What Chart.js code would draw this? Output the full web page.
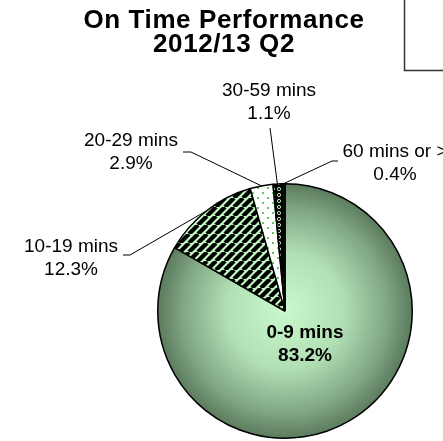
<!DOCTYPE html>
<html>
<head>
<meta charset="utf-8">
<script src="https://cdn.jsdelivr.net/npm/chart.js@4/dist/chart.umd.min.js"></script>
<style>
    html, body { margin: 0; padding: 0; background: #fff; overflow: hidden; }
    #otpChart { display: block; }
</style>
</head>
<body>
<canvas id="otpChart" width="443" height="441"></canvas>
<script>
// Chart data
const categories = ['0-9 mins', '10-19 mins', '20-29 mins', '30-59 mins', '60 mins or >'];
const shares = [83.2, 12.3, 2.9, 1.1, 0.4];
const titleLines = ['On Time Performance', '2012/13 Q2'];

const FONT = '"Liberation Sans", Arial, sans-serif';

// where each callout text sits and the elbow of its leader line
const calloutPlacement = [
    { x: 305, y: 338, bold: true, elbow: null },
    { x: 71, y: 252, elbow: [[123, 255], [130, 255]] },
    { x: 131, y: 146, elbow: [[183, 152], [191, 152]] },
    { x: 269, y: 96, elbow: [[270, 128]] },
    { x: 395, y: 157, elbow: [[338, 161], [332, 161]] }
];

// Pattern helpers
function makeTile(size, paint) {
    const c = document.createElement('canvas');
    c.width = size;
    c.height = size;
    paint(c.getContext('2d'), size);
    return document.createElement('canvas').getContext('2d').createPattern(c, 'repeat');
}

const stripePattern = makeTile(9, (g, s) => {
    g.fillStyle = '#c2f7c2';
    g.fillRect(0, 0, s, s);
    g.strokeStyle = '#000';
    g.lineWidth = 4.2;
    for (const o of [-s, 0, s]) {
        g.beginPath();
        g.moveTo(o, s);
        g.lineTo(o + s, 0);
        g.stroke();
    }
});

const dotPattern = makeTile(10, (g, s) => {
    g.fillStyle = '#fff';
    g.fillRect(0, 0, s, s);
    g.fillStyle = '#5fc85f';
    g.fillRect(2, 2, 2, 2);
    g.fillRect(7, 7, 2, 2);
});

const ringPattern = makeTile(6, (g, s) => {
    g.fillStyle = '#000';
    g.fillRect(0, 0, s, s);
    g.strokeStyle = '#b8f0b8';
    g.lineWidth = 1;
    g.beginPath();
    g.arc(3, 3, 1.6, 0, Math.PI * 2);
    g.stroke();
});

function mainGradient(chart) {
    const area = chart.chartArea;
    if (!area) return '#9cc89e';
    const cx = (area.left + area.right) / 2;
    const cy = (area.top + area.bottom) / 2;
    const r = Math.min(area.right - area.left, area.bottom - area.top) / 2;
    const g = chart.ctx.createRadialGradient(cx, cy, 0, cx, cy, r);
    g.addColorStop(0, '#c8f8cc');
    g.addColorStop(0.45, '#b2e0b5');
    g.addColorStop(0.8, '#80a683');
    g.addColorStop(1, '#5a7a5c');
    return g;
}

const sliceFills = [null, stripePattern, dotPattern, ringPattern, '#111'];

// Title, callout labels and leader lines
const calloutPlugin = {
    id: 'callouts',
    afterDraw(chart) {
        const ctx = chart.ctx;
        const meta = chart.getDatasetMeta(0);
        ctx.save();

        // clipped box in the top right corner
        ctx.strokeStyle = '#333';
        ctx.lineWidth = 1.5;
        ctx.strokeRect(404.5, -5, 60, 75.5);

        ctx.fillStyle = '#000';
        ctx.textAlign = 'center';
        ctx.textBaseline = 'alphabetic';
        ctx.font = `bold 26px ${FONT}`;
        ctx.letterSpacing = '0.6px';
        ctx.fillText(titleLines[0], 224, 28);
        ctx.fillText(titleLines[1], 224, 52);
        ctx.letterSpacing = '0px';

        meta.data.forEach((arc, i) => {
            const p = calloutPlacement[i];
            const mid = (arc.startAngle + arc.endAngle) / 2;
            if (p.elbow) {
                const ex = arc.x + Math.cos(mid) * arc.outerRadius;
                const ey = arc.y + Math.sin(mid) * arc.outerRadius;
                ctx.strokeStyle = '#000';
                ctx.lineWidth = 1;
                ctx.beginPath();
                ctx.moveTo(p.elbow[0][0], p.elbow[0][1]);
                for (let k = 1; k < p.elbow.length; k++) ctx.lineTo(p.elbow[k][0], p.elbow[k][1]);
                ctx.lineTo(ex, ey);
                ctx.stroke();
            }
            ctx.fillStyle = '#000';
            ctx.font = `${p.bold ? 'bold ' : ''}19px ${FONT}`;
            ctx.fillText(categories[i], p.x, p.y);
            ctx.fillText(shares[i].toFixed(1) + '%', p.x, p.y + 23);
        });
        ctx.restore();
    }
};

const otpChart = new Chart(document.getElementById('otpChart'), {
    type: 'pie',
    data: {
        labels: categories,
        datasets: [{
            data: shares,
            backgroundColor: (context) => context.dataIndex === 0 ? mainGradient(context.chart) : sliceFills[context.dataIndex],
            borderColor: '#000',
            borderWidth: 1.5
        }]
    },
    options: {
        responsive: false,
        animation: false,
        layout: {
            padding: { left: 157, right: 30, top: 183, bottom: 2 }
        },
        plugins: {
            legend: { display: false },
            title: { display: false },
            tooltip: { enabled: false }
        }
    },
    plugins: [calloutPlugin]
});
</script>
</body>
</html>
